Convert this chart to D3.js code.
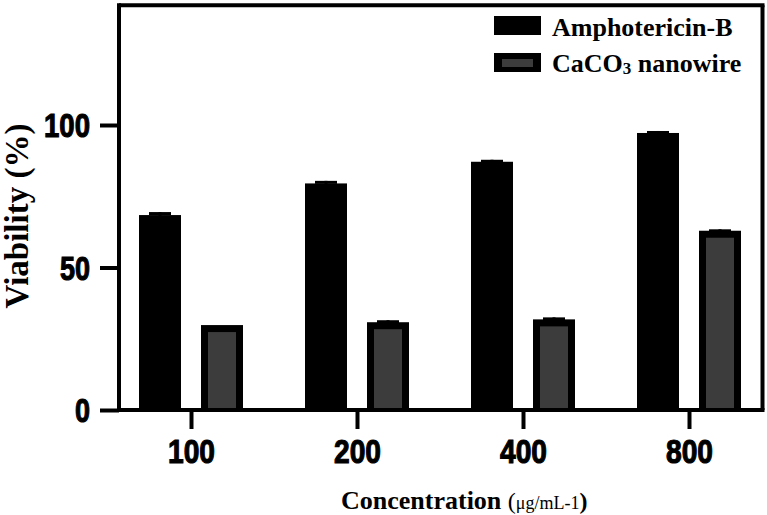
<!DOCTYPE html>
<html>
<head>
<meta charset="utf-8">
<script src="https://cdn.jsdelivr.net/npm/d3@7/dist/d3.min.js"></script>
<style>
  html, body { margin: 0; padding: 0; background: #fff; }
  svg { display: block; }
</style>
</head>
<body>
<svg id="chart" width="767" height="515"></svg>
<script>
// ---- data ----
const categories = ["100", "200", "400", "800"];
const seriesNames = ["Amphotericin-B", "CaCO3 nanowire"];
const amphoValues = [68.4, 79.5, 87.1, 97.2];
const amphoErrors = [1.05, 0.9, 0.7, 0.7];
const nanoValues = [29.8, 30.8, 31.8, 62.9];
const nanoErrors = [0.0, 0.7, 0.7, 0.5];
const yTicks = [0, 50, 100];
const yMax = 142;

const svg = d3.select("#chart");

const x = d3.scalePoint().domain(categories).range([191, 689]);
const xSub = d3.scaleBand().domain(seriesNames).range([-52, 52]).paddingInner(0.3226);
const y = d3.scaleLinear().domain([0, 100]).range([410, 125]);

const axisX0 = 119;
const frameRight = 762.5;
const lw = 4;

const data = categories.map((c, i) => ({
  cat: c,
  vals: [
    { s: seriesNames[0], v: amphoValues[i], e: amphoErrors[i] },
    { s: seriesNames[1], v: nanoValues[i], e: nanoErrors[i] }
  ]
}));

const g = svg.append("g");
const groups = g.selectAll("g.grp").data(data).enter().append("g")
  .attr("class", "grp")
  .attr("transform", d => `translate(${x(d.cat)},0)`);

const inset = 7;
groups.each(function(d) {
  const gg = d3.select(this);
  d.vals.forEach((b, j) => {
    const x0 = xSub(b.s);
    const bw = xSub.bandwidth();
    const top = y(b.v);
    if (b.e > 0) {
      gg.append("rect").attr("x", x0 + bw / 2 - 1.5).attr("y", y(b.v + b.e))
        .attr("width", 3).attr("height", top - y(b.v + b.e) + 2).attr("fill", "#000");
      gg.append("rect").attr("x", x0 + bw / 2 - 11).attr("y", y(b.v + b.e))
        .attr("width", 22).attr("height", 3).attr("fill", "#000");
    }
    gg.append("rect").attr("x", x0).attr("y", top)
      .attr("width", bw).attr("height", y(0) - top).attr("fill", "#000");
    if (j === 1) {
      gg.append("rect").attr("x", x0 + inset).attr("y", top + inset)
        .attr("width", bw - 2 * inset).attr("height", y(0) - top - inset)
        .attr("fill", "#3c3c3c");
    }
  });
});

// frame (top + right)
svg.append("line").attr("x1", axisX0).attr("x2", frameRight + lw / 2)
  .attr("y1", y(yMax)).attr("y2", y(yMax)).attr("stroke", "#000").attr("stroke-width", lw);
svg.append("line").attr("x1", frameRight).attr("x2", frameRight)
  .attr("y1", y(yMax)).attr("y2", y(0)).attr("stroke", "#000").attr("stroke-width", lw);

const sansFam = "'Liberation Sans Narrow', 'Arial Narrow', 'Liberation Sans', Arial, sans-serif";

// y axis
const yAxis = d3.axisLeft(y).tickValues(yTicks).tickSize(19).tickSizeOuter(0).tickPadding(10);
const yg = svg.append("g").attr("transform", `translate(${axisX0},0)`).call(yAxis);
yg.select(".domain").remove();
yg.selectAll(".tick line").attr("stroke", "#000").attr("stroke-width", lw);
yg.selectAll(".tick text")
  .attr("font-family", sansFam)
  .attr("font-weight", "bold").attr("font-size", 33).attr("fill", "#000")
  .attr("stroke", "#000").attr("stroke-width", 1.1)
  .attr("dy", "0.35em")
  .attr("textLength", d => d === 100 ? 46 : (d === 50 ? 30 : 15))
  .attr("lengthAdjust", "spacingAndGlyphs");
svg.append("line").attr("x1", axisX0).attr("x2", axisX0)
  .attr("y1", y(yMax) - lw / 2).attr("y2", y(0) + lw / 2).attr("stroke", "#000").attr("stroke-width", lw);

// x axis
const xAxis = d3.axisBottom(x).tickSize(19).tickSizeOuter(0).tickPadding(11);
const xg = svg.append("g").attr("transform", `translate(0,${y(0)})`).call(xAxis);
xg.select(".domain").remove();
xg.selectAll(".tick line").attr("stroke", "#000").attr("stroke-width", lw);
xg.selectAll(".tick text")
  .attr("font-family", sansFam)
  .attr("font-weight", "bold").attr("font-size", 33).attr("fill", "#000")
  .attr("stroke", "#000").attr("stroke-width", 1.1)
  .attr("textLength", 47).attr("lengthAdjust", "spacingAndGlyphs");
svg.append("line").attr("x1", axisX0 - lw / 2).attr("x2", frameRight + lw / 2)
  .attr("y1", y(0)).attr("y2", y(0)).attr("stroke", "#000").attr("stroke-width", lw);

const serif = "'Liberation Serif', 'Times New Roman', serif";

// y title
svg.append("text")
  .attr("transform", `translate(28,216) rotate(-90)`)
  .attr("text-anchor", "middle")
  .attr("font-family", serif).attr("font-weight", "bold").attr("font-size", 33)
  .attr("fill", "#000")
  .text("Viability (%)");

// x title
const xt = svg.append("text")
  .attr("x", 341).attr("y", 509)
  .attr("font-family", serif).attr("font-weight", "bold").attr("fill", "#000");
xt.append("tspan").attr("font-size", 26).text("Concentration ");
xt.append("tspan").attr("font-size", 24).attr("font-weight", "normal").text("(");
xt.append("tspan").attr("font-size", 18).attr("font-weight", "normal").text("μg/mL-1");
xt.append("tspan").attr("font-size", 24).attr("font-weight", "bold").text(")");

// legend
const legend = svg.append("g");
const legItems = [
  { name: seriesNames[0], boxY: 16, base: 36 },
  { name: seriesNames[1], boxY: 53, base: 72 }
];
legItems.forEach((it, i) => {
  legend.append("rect").attr("x", 494).attr("y", it.boxY).attr("width", 47).attr("height", 19).attr("fill", "#000");
  if (i === 1) {
    legend.append("rect").attr("x", 502).attr("y", it.boxY + 6).attr("width", 31).attr("height", 8).attr("fill", "#3c3c3c");
  }
  const t = legend.append("text").attr("x", 552).attr("y", it.base)
    .attr("font-family", serif).attr("font-weight", "bold").attr("font-size", 26).attr("fill", "#000");
  if (i === 0) {
    t.text(it.name);
  } else {
    t.append("tspan").text("CaCO");
    t.append("tspan").attr("font-size", 17).attr("dy", 2).text("3");
    t.append("tspan").attr("dy", -2).text(" nanowire");
  }
});
</script>
</body>
</html>
